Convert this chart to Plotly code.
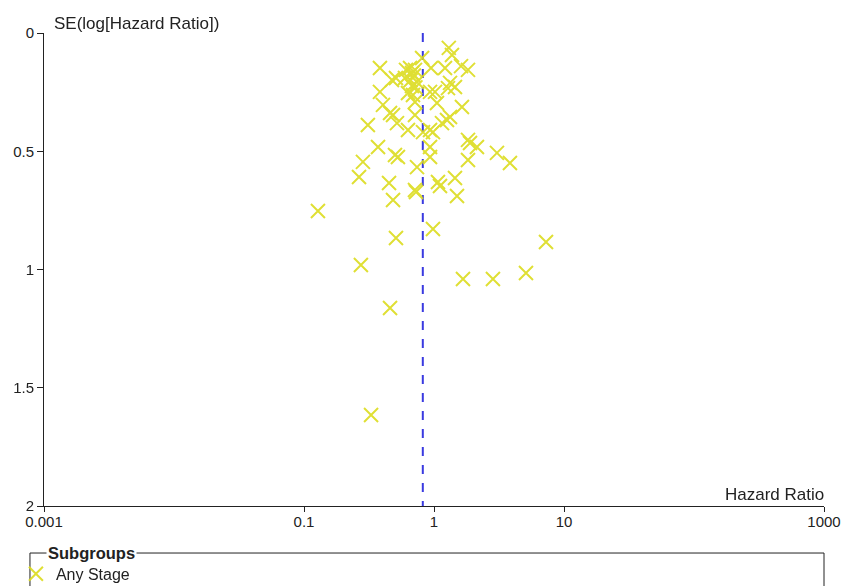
import plotly.graph_objects as go

# Study estimates (hazard ratio, standard error of log HR)
hazard_ratio = [1.30, 1.375, 0.81, 0.384, 0.475, 0.51, 0.609, 0.654, 0.677, 0.714,
                0.948, 1.215, 1.614, 1.826, 0.598, 0.74, 0.677, 0.384, 0.631, 0.689,
                0.932, 1.018, 1.281, 1.328, 1.45, 0.405, 0.714, 1.054, 1.641, 0.459,
                0.484, 0.519, 0.714, 1.328, 1.259, 1.152, 0.31, 0.631, 0.932, 0.982,
                0.823, 0.371, 0.932, 1.826, 1.893, 2.14, 0.284, 0.501, 0.528, 0.932,
                1.826, 3.05, 3.84, 0.74, 0.265, 0.451, 1.073, 1.112, 1.45, 0.714,
                0.727, 0.484, 1.503, 0.128, 0.982, 0.51, 7.27, 0.274, 1.671, 2.84,
                5.1, 0.459, 0.328, 0.70, 0.72, 0.66]
se_log_hr = [0.063, 0.093, 0.106, 0.148, 0.199, 0.19, 0.156, 0.148, 0.169, 0.156,
             0.148, 0.148, 0.14, 0.156, 0.19, 0.207, 0.224, 0.249, 0.254, 0.262,
             0.249, 0.249, 0.233, 0.211, 0.228, 0.304, 0.292, 0.296, 0.313, 0.338,
             0.347, 0.381, 0.347, 0.355, 0.368, 0.381, 0.389, 0.41, 0.41, 0.419,
             0.419, 0.482, 0.482, 0.452, 0.465, 0.482, 0.545, 0.516, 0.524, 0.524,
             0.537, 0.507, 0.55, 0.567, 0.609, 0.634, 0.63, 0.647, 0.613, 0.664,
             0.672, 0.706, 0.689, 0.753, 0.829, 0.867, 0.884, 0.981, 1.04, 1.04,
             1.015, 1.163, 1.615, 0.18, 0.23, 0.20]

pooled_hr = [0.82, 0.82]
pooled_se = [0, 2]

x_tickvals = [0.001, 0.1, 1, 10, 1000]
x_ticktext = ["0.001", "0.1", "1", "10", "1000"]
y_tickvals = [0, 0.5, 1, 1.5, 2]
y_ticktext = ["0", "0.5", "1", "1.5", "2"]

FONT = "Liberation Sans, Arial, sans-serif"
YELLOW = "#dcdc1e"

fig = go.Figure()
fig.add_trace(go.Scatter(
    x=pooled_hr, y=pooled_se, mode="lines",
    line=dict(color="#3a3ae0", width=2, dash="dash"),
    showlegend=False, hoverinfo="skip", cliponaxis=False))
fig.add_trace(go.Scatter(
    x=hazard_ratio, y=se_log_hr, mode="markers", name="Any Stage",
    marker=dict(symbol="x-thin", size=14, color=YELLOW,
                line=dict(color=YELLOW, width=2)),
    opacity=0.9, cliponaxis=False))

fig.update_layout(
    width=856, height=586,
    margin=dict(l=36, r=40, t=25, b=88, autoexpand=False),
    paper_bgcolor="white", plot_bgcolor="white",
    font=dict(family=FONT, size=15, color="#222"),
    showlegend=True,
    legend=dict(x=-0.036, y=-0.1075, xanchor="left", yanchor="top",
                bgcolor="rgba(0,0,0,0)", font=dict(size=16),
                itemwidth=30, tracegroupgap=0),
)
fig.update_xaxes(type="log", range=[-3, 3], tickvals=x_tickvals, ticktext=x_ticktext,
                 showgrid=False, zeroline=False, showline=True, linecolor="#222",
                 linewidth=1, ticks="outside", ticklen=5, tickcolor="#222",
                 ticklabelstandoff=-3, automargin=False)
fig.update_yaxes(range=[2, 0], tickvals=y_tickvals, ticktext=y_ticktext,
                 showgrid=False, zeroline=False, showline=True, linecolor="#222",
                 linewidth=1, ticks="outside", ticklen=6, tickcolor="#222",
                 automargin=False)

fig.add_annotation(x=0.01, y=1.0, xref="paper", yref="paper", xanchor="left",
                   yanchor="bottom", text="SE(log[Hazard Ratio])", showarrow=False,
                   font=dict(size=17), yshift=-2)
fig.add_annotation(x=1.0, y=0.0, xref="paper", yref="paper", xanchor="right",
                   yanchor="bottom", text="Hazard Ratio", showarrow=False,
                   font=dict(size=17), xshift=2)

# legend frame
fig.add_shape(type="rect", xref="paper", yref="paper", x0=-0.018, x1=1.0,
              y0=-0.25, y1=-0.0994, line=dict(color="#222", width=1))
fig.add_annotation(x=0.0, y=-0.0994, xref="paper", yref="paper", xanchor="left",
                   yanchor="middle", text="<b>Subgroups</b>", showarrow=False,
                   bgcolor="white", font=dict(size=16.5), xshift=2)

fig.write_html("out.html")
